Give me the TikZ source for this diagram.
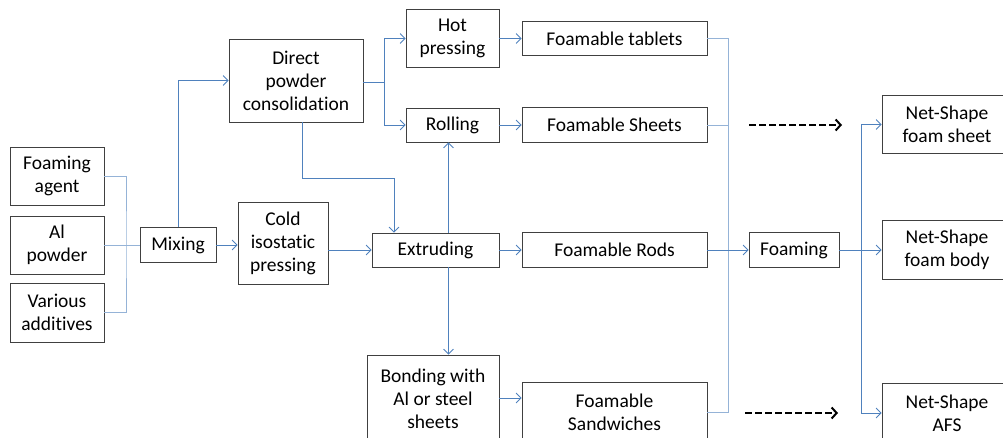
\documentclass[tikz,border=0pt]{standalone}
\usepackage{fontspec}
\setmainfont{Carlito}[Ligatures={NoCommon}]
\usetikzlibrary{arrows.meta}
\definecolor{lineblue}{RGB}{79,129,189}
\definecolor{lightblue}{RGB}{149,179,215}
\definecolor{boxgray}{RGB}{64,64,64}
\tikzset{
	box/.style={draw=boxgray, line width=0.8pt, align=center, inner sep=0pt, font=\fontsize{19.5}{23}\selectfont},
	flow/.style={draw=lineblue, line width=0.8pt, -{Straight Barb[length=5pt,width=10pt]}},
	feed/.style={draw=lightblue, line width=0.8pt},
	later/.style={draw=black, line width=2.2pt, dash pattern=on 7pt off 3pt, -{Straight Barb[length=5pt,width=11pt,line width=2pt]}}
}
\begin{document}
\begin{tikzpicture}[x=1pt,y=-1pt]
			%%%%% START %%%%%
			\useasboundingbox (0,0) rectangle (1003,438);
			
			% raw materials
			\node[box, minimum width=94pt, minimum height=58pt] (agent) at (57,176) {Foaming\\agent};
			\node[box, minimum width=94pt, minimum height=58pt] (alpow) at (57,245) {Al\\powder};
			\node[box, minimum width=94pt, minimum height=59pt] (addit) at (57,312.5) {Various\\additives};
			\node[box, minimum width=76pt, minimum height=35pt] (mixing) at (178,245) {Mixing};
			
			% consolidation
			\node[box, minimum width=90pt, minimum height=82pt] (cip) at (283,243) {Cold\\isostatic\\pressing};
			\node[box, minimum width=134pt, minimum height=83pt] (dpc) at (296,80.5) {Direct\\powder\\consolidation};
			\node[box, minimum width=93pt, minimum height=58pt] (hotp) at (452.5,38.5) {Hot\\pressing};
			\node[box, minimum width=93pt, minimum height=34pt] (rolling) at (452.5,125) {Rolling};
			\node[box, minimum width=127pt, minimum height=34pt] (extr) at (435.5,250) {Extruding};
			\node[box, minimum width=132pt, minimum height=88pt] (bond) at (433,399) {Bonding with\\Al or steel\\sheets};
			
			% precursors
			\node[box, minimum width=185pt, minimum height=34pt] (ftab) at (614.5,38.5) {Foamable tablets};
			\node[box, minimum width=185pt, minimum height=35pt] (fsheet) at (614.5,125) {Foamable Sheets};
			\node[box, minimum width=185pt, minimum height=35pt] (frods) at (614.5,250) {Foamable Rods};
			\node[box, minimum width=185pt, minimum height=60pt] (fsand) at (614.5,412.5) {Foamable\\Sandwiches};
			
			% foaming and products
			\node[box, minimum width=90pt, minimum height=35pt] (foaming) at (794,250) {Foaming};
			\node[box, minimum width=130pt, minimum height=58pt] (nsheet) at (947,124.5) {Net-Shape\\foam sheet};
			\node[box, minimum width=130pt, minimum height=59pt] (nbody) at (947,250) {Net-Shape\\foam body};
			\node[box, minimum width=130pt, minimum height=60pt] (nafs) at (947,413) {Net-Shape\\AFS};
			
			\coordinate (jin) at (126,245);
			\coordinate (jdpc) at (384,82);
			\coordinate (jmid) at (394,178);
			\coordinate (jext) at (448.5,250);
			\coordinate (jout) at (728,250);
			\coordinate (jfoam) at (861,250);
			
			\draw[feed] (agent.east) -| (jin) |- (addit.east);
			\draw[feed] (alpow.east) -- (mixing.west);
			\draw[flow] (mixing.north) |- (dpc.west);
			\draw[flow] (mixing.east) -- (mixing.east -| cip.west);
			\draw[flow] (cip.east |- extr.west) -- (extr.west);
			
			\draw[draw=lineblue, line width=0.8pt] (dpc.east |- jdpc) -- (jdpc);
			\draw[flow] (jdpc) |- (hotp.west);
			\draw[flow] (jdpc) |- (rolling.west);
			\draw[flow] ([xshift=6pt]dpc.south) |- (jmid) -- (jmid |- extr.north);
			\draw[flow] (jext |- extr.north) -- (jext |- rolling.south);
			\draw[flow] (jext |- extr.south) -- (jext |- bond.north);
			
			\draw[flow] (hotp.east) -- (ftab.west);
			\draw[flow] (rolling.east) -- (fsheet.west);
			\draw[flow] (extr.east) -- (frods.west);
			\draw[flow] ([yshift=1pt]bond.east) -- ([yshift=1pt]bond.east -| fsand.west);
			
			\draw[feed] (ftab.east) -| (jout);
			\draw[feed] (fsheet.east) -| (jout);
			\draw[feed] (fsand.east) -| (jout);
			\draw[flow] (frods.east) -- (foaming.west);
			
			\draw[flow] (foaming.east) -- (nbody.west);
			\draw[flow] (jfoam) |- (nsheet.west);
			\draw[flow] (jfoam) |- (nafs.west);
			
			\coordinate (d1a) at (749,125);
			\coordinate (d1b) at (842,125);
			\coordinate (d2a) at (745,413);
			\coordinate (d2b) at (838,413);
			\draw[later] (d1a) -- (d1b);
			\draw[later] (d2a) -- (d2b);
			%%%%% END %%%%%
\end{tikzpicture}
\end{document}
